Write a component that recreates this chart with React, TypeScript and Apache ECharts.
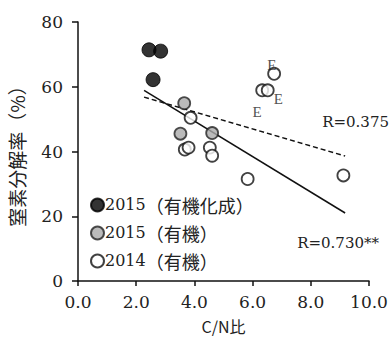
import React, { useEffect, useRef } from "react";
import * as echarts from "echarts";

const xTicks = [0, 2, 4, 6, 8, 10];
const yTicks = [0, 20, 40, 60, 80];

const seriesNames = ["2015（有機化成）", "2015（有機）", "2014（有機）"];

const data2015Chem: [number, number][] = [
  [2.44, 71.4],
  [2.84, 71.0],
  [2.58, 62.2],
];
const data2015Org: [number, number][] = [
  [3.65, 54.9],
  [3.52, 45.5],
  [4.61, 45.7],
];
const data2014Org: [number, number][] = [
  [3.87, 50.4],
  [3.67, 40.6],
  [3.8, 41.2],
  [4.53, 41.2],
  [4.61, 38.7],
  [5.83, 31.5],
  [6.33, 58.9],
  [6.52, 58.9],
  [6.74, 64.0],
  [9.12, 32.6],
];

const solidLine: [number, number][] = [
  [2.27, 58.9],
  [9.18, 21.0],
];
const dashedLine: [number, number][] = [
  [2.27, 56.8],
  [9.18, 38.6],
];

const eLabels: [number, number][] = [
  [6.66, 66.6],
  [6.88, 56.1],
  [6.15, 52.1],
];

const rLabels = ["R=0.375", "R=0.730**"];

const SERIF = "DejaVu Serif";
const CJK = "Noto Sans CJK JP";

export default function App() {
  const ref = useRef<HTMLDivElement>(null);
  useEffect(() => {
    if (!ref.current) return;
    const chart = echarts.init(ref.current, null, { renderer: "svg" });
    chart.setOption({
      animation: false,
      textStyle: { fontFamily: SERIF },
      grid: {
        left: 78,
        right: 22,
        top: 22,
        bottom: 57,
        containLabel: false,
        outerBoundsMode: "none",
      },
      xAxis: {
        type: "value",
        min: xTicks[0],
        max: xTicks[xTicks.length - 1],
        interval: 2,
        name: "C/N比",
        nameLocation: "middle",
        nameGap: 36,
        nameTextStyle: { fontSize: 16, color: "#222", fontFamily: CJK, lineHeight: 18 },
        axisLine: { lineStyle: { color: "#111", width: 1.5 } },
        axisTick: { length: 5, lineStyle: { color: "#111", width: 1.5 } },
        axisLabel: {
          fontSize: 17,
          color: "#222",
          fontFamily: SERIF,
          margin: 12,
          formatter: (v: number) => v.toFixed(1),
        },
        splitLine: { show: false },
      },
      yAxis: {
        type: "value",
        min: yTicks[0],
        max: yTicks[yTicks.length - 1],
        interval: 20,
        name: "窒素分解率（%）",
        nameLocation: "middle",
        nameGap: 52,
        nameTextStyle: { fontSize: 19, color: "#222", fontFamily: CJK },
        axisLine: { lineStyle: { color: "#111", width: 1.5 } },
        axisTick: { length: 6, lineStyle: { color: "#111", width: 1.5 } },
        axisLabel: { fontSize: 17, color: "#222", fontFamily: SERIF, margin: 15 },
        splitLine: { show: false },
      },
      legend: {
        orient: "vertical",
        left: 90,
        top: 196,
        padding: 0,
        itemGap: 10,
        itemWidth: 13,
        itemHeight: 13,
        data: seriesNames.map((n) => ({ name: n, icon: "circle" })),
        formatter: (name: string) => {
          const m = name.match(/^(\d+)(.*)$/);
          return m ? `{d|${m[1]}}{c|${m[2]}}` : name;
        },
        textStyle: {
          padding: [0, 0, 0, -4],
          rich: {
            d: { fontSize: 16, fontFamily: SERIF, color: "#222" },
            c: { fontSize: 18, fontFamily: CJK, color: "#222" },
          },
        },
      },
      series: [
        {
          name: "solid",
          type: "line",
          data: solidLine,
          symbol: "none",
          lineStyle: { color: "#111", width: 1.5 },
          z: 1,
        },
        {
          name: "dashed",
          type: "line",
          data: dashedLine,
          symbol: "none",
          lineStyle: { color: "#111", width: 1.5, type: [5, 3] },
          z: 1,
        },
        {
          name: seriesNames[2],
          type: "scatter",
          data: data2014Org,
          symbol: "circle",
          symbolSize: 12,
          itemStyle: { color: "#fff", borderColor: "#111", borderWidth: 1.8 },
          z: 3,
        },
        {
          name: seriesNames[1],
          type: "scatter",
          data: data2015Org,
          symbol: "circle",
          symbolSize: 12,
          itemStyle: { color: "#aaa", borderColor: "#222", borderWidth: 1.8 },
          z: 3,
        },
        {
          name: seriesNames[0],
          type: "scatter",
          data: data2015Chem,
          symbol: "circle",
          symbolSize: 14,
          itemStyle: { color: "#000", borderColor: "#000", borderWidth: 1 },
          z: 3,
        },
        {
          name: "E",
          type: "scatter",
          data: eLabels,
          symbolSize: 0,
          silent: true,
          label: {
            show: true,
            position: "inside",
            formatter: "E",
            fontSize: 15,
            color: "#222",
            fontFamily: "Liberation Serif",
          },
          z: 4,
        },
      ],
      graphic: [
        {
          type: "text",
          x: 389,
          y: 122,
          style: {
            text: rLabels[0],
            fill: "#222",
            fontSize: 15,
            fontFamily: SERIF,
            textAlign: "right",
            textVerticalAlign: "middle",
          },
        },
        {
          type: "text",
          x: 379,
          y: 243,
          style: {
            text: rLabels[1],
            fill: "#222",
            fontSize: 15,
            fontFamily: SERIF,
            textAlign: "right",
            textVerticalAlign: "middle",
          },
        },
      ],
    });
    return () => chart.dispose();
  }, []);
  return (
    <div
      ref={ref}
      style={{ position: "absolute", left: 0, top: 0, width: 391, height: 338 }}
    />
  );
}
